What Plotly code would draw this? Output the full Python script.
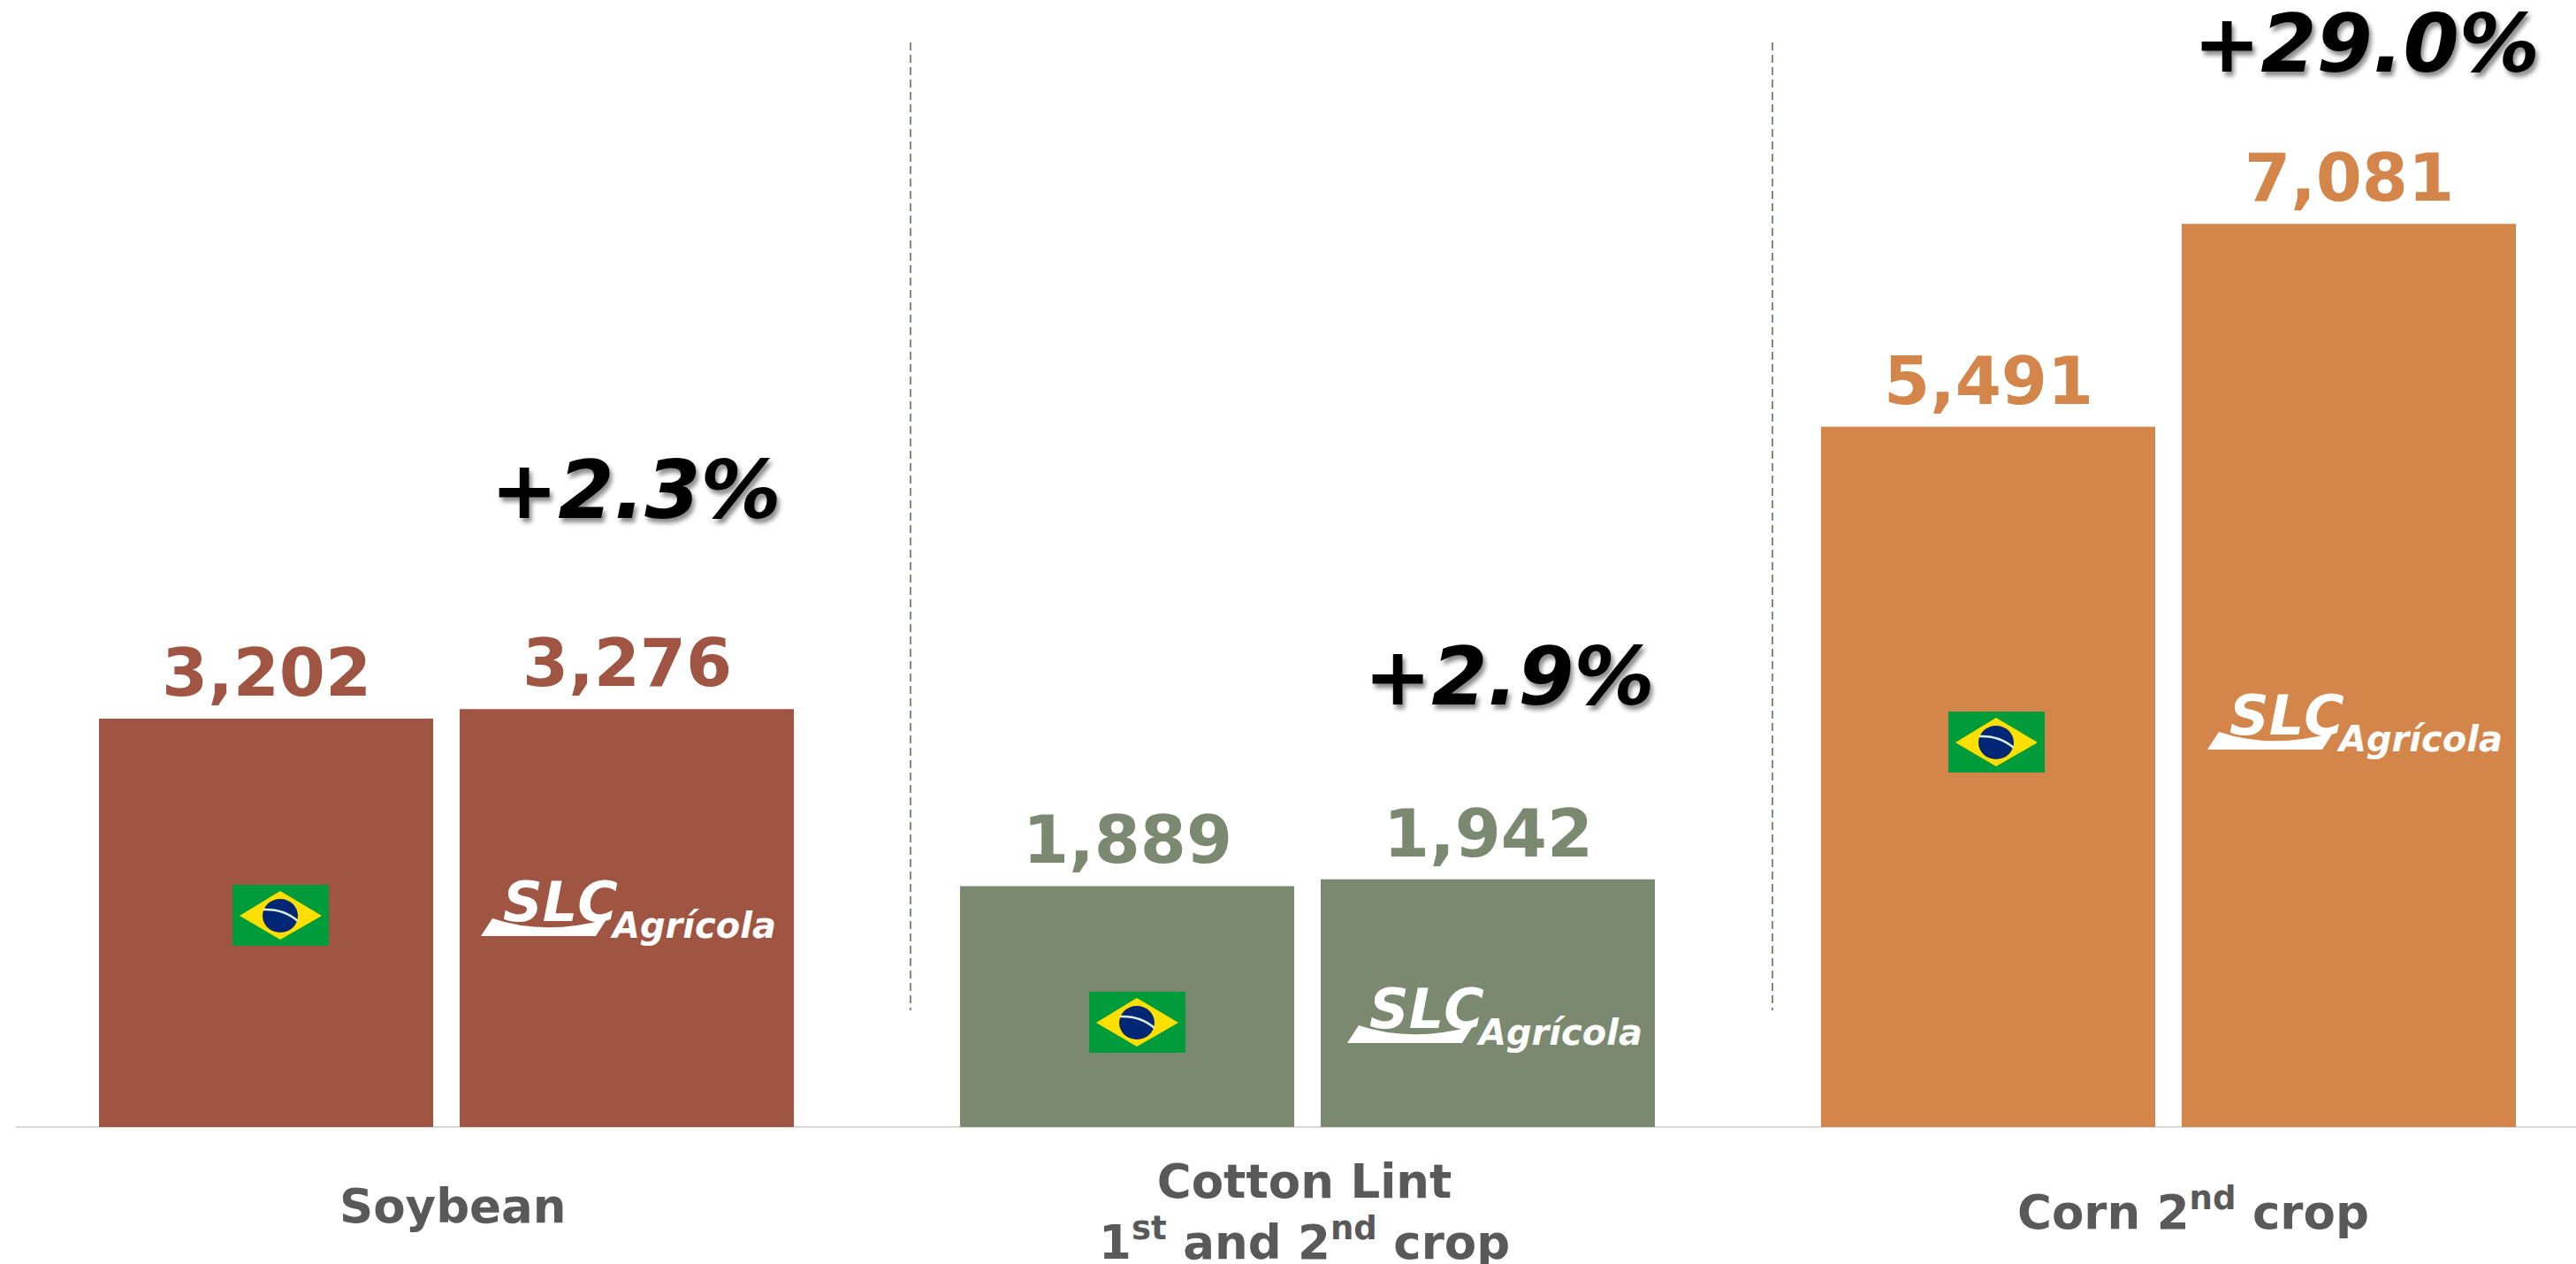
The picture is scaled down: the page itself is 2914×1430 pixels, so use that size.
import plotly.graph_objects as go

categories = ["Soybean", "Cotton Lint<br>1<sup>st</sup> and 2<sup>nd</sup> crop", "Corn 2<sup>nd</sup> crop"]
brazil_values = [3202, 1889, 5491]
slc_values = [3276, 1942, 7081]
growth_labels = ["+2.3%", "+2.9%", "+29.0%"]
bar_colors = ["#A05543", "#7A8970", "#D3854A"]
label_colors = ["#A05543", "#7A8970", "#D3854A"]

W, H = 2914, 1430
L, BASE = 18, 1275
PW = W - L
BAND = 974

def px(x): return (x - L) / PW
def py(y): return (BASE - y) / BASE

FLAG_SVG = ("data:image/svg+xml;utf8,<svg xmlns='http://www.w3.org/2000/svg' viewBox='0 0 109 69' preserveAspectRatio='none'>"
            "<rect width='109' height='69' fill='%23009B3A'/>"
            "<polygon points='8,35 54,7 101,35 54,62' fill='%23FEDF00'/>"
            "<ellipse cx='54' cy='35' rx='20' ry='19' fill='%23002776'/>"
            "<path d='M35 28 Q58 27 74 41' stroke='%23DDEEDD' stroke-width='2.5' fill='none'/></svg>")

fig = go.Figure()
fig.add_bar(x=list(range(3)), y=brazil_values, marker_color=bar_colors, marker_line_width=0, name="Brazil", showlegend=False)
fig.add_bar(x=list(range(3)), y=slc_values, marker_color=bar_colors, marker_line_width=0, name="SLC Agrícola", showlegend=False)

annotations = []
images = []
shapes = []

# value labels
slot = 408 / BAND
for i in range(3):
    for off, vals in ((-slot / 2, brazil_values), (slot / 2, slc_values)):
        annotations.append(dict(x=i + off, y=vals[i], xref="x", yref="y", text=f"{vals[i]:,}",
                                showarrow=False, xanchor="center", yanchor="bottom", yshift=6,
                                font=dict(family="DejaVu Sans", size=75, color=label_colors[i], weight="bold")))

# growth labels
growth_pos = [(719, 554), (1707, 765), (2677, 50)]
for t, (x, y) in zip(growth_labels, growth_pos):
    annotations.append(dict(x=px(x), y=py(y), xref="paper", yref="paper", text=t, showarrow=False,
                            xanchor="center", yanchor="middle",
                            font=dict(family="DejaVu Sans", size=91, color="#000000", weight="bold",
                                      style="italic", shadow="3px 5px 5px rgba(0,0,0,0.45)")))

# category labels
cat_pos = [(512, 1364), (1475, 1371), (2481, 1368)]
for t, (x, y) in zip(categories, cat_pos):
    annotations.append(dict(x=px(x), y=py(y), xref="paper", yref="paper", text=t, showarrow=False,
                            xanchor="center", yanchor="middle",
                            font=dict(family="DejaVu Sans", size=53, color="#595959", weight="bold")))

# flags
for x, y in [(263, 1001), (1232, 1122), (2204, 805)]:
    images.append(dict(source=FLAG_SVG, xref="paper", yref="paper", x=px(x), y=py(y),
                       sizex=109 / PW, sizey=69 / BASE, xanchor="left", yanchor="top",
                       sizing="stretch", layer="above"))

# logos
for x, y in [(544, 1001), (1524, 1122), (2497, 790)]:
    annotations.append(dict(x=px(x + 90), y=py(y + 19), xref="paper", yref="paper", text="SLC", showarrow=False,
                            xanchor="center", yanchor="middle",
                            font=dict(family="DejaVu Sans", size=62, color="white", weight="bold", style="italic")))
    annotations.append(dict(x=px(x + 240), y=py(y + 46), xref="paper", yref="paper", text="Agrícola", showarrow=False,
                            xanchor="center", yanchor="middle",
                            font=dict(family="DejaVu Sans", size=40, color="white", weight="bold", style="italic")))
    p = lambda a, b: f"{px(x + a):.5f},{py(y + b):.5f}"
    shapes.append(dict(type="path", xref="paper", yref="paper", line_width=0, fillcolor="white", layer="above",
                       path=f"M{p(0,58)} L{p(13,38)} Q{p(72,58)} {p(142,39)} L{p(130,58)} Z"))

# dashed separators
for x in (1030, 2005):
    shapes.append(dict(type="line", xref="paper", yref="paper", x0=px(x), x1=px(x), y0=py(48), y1=py(1143),
                       line=dict(color="#7F8F7F", width=2, dash="9px,5px")))

fig.update_layout(
    width=W, height=H, margin=dict(l=L, r=0, t=0, b=H - BASE), autosize=False,
    paper_bgcolor="white", plot_bgcolor="white", barmode="group",
    bargap=1 - 816 / BAND, bargroupgap=30 / 408, showlegend=False,
    annotations=annotations, images=images, shapes=shapes,
    xaxis=dict(range=[-0.5, -0.5 + PW / BAND], showgrid=False, zeroline=False, showticklabels=False, ticks="",
               showline=False, fixedrange=True),
    yaxis=dict(range=[0, 1274 * 7081 / 1021], showgrid=False, zeroline=True, zerolinecolor="#D9D9D9", zerolinewidth=2,
               showticklabels=False, ticks="", showline=False, fixedrange=True),
)

fig.write_html("out.html", config=dict(displayModeBar=False),
               post_script="document.body.style.margin='0';")
